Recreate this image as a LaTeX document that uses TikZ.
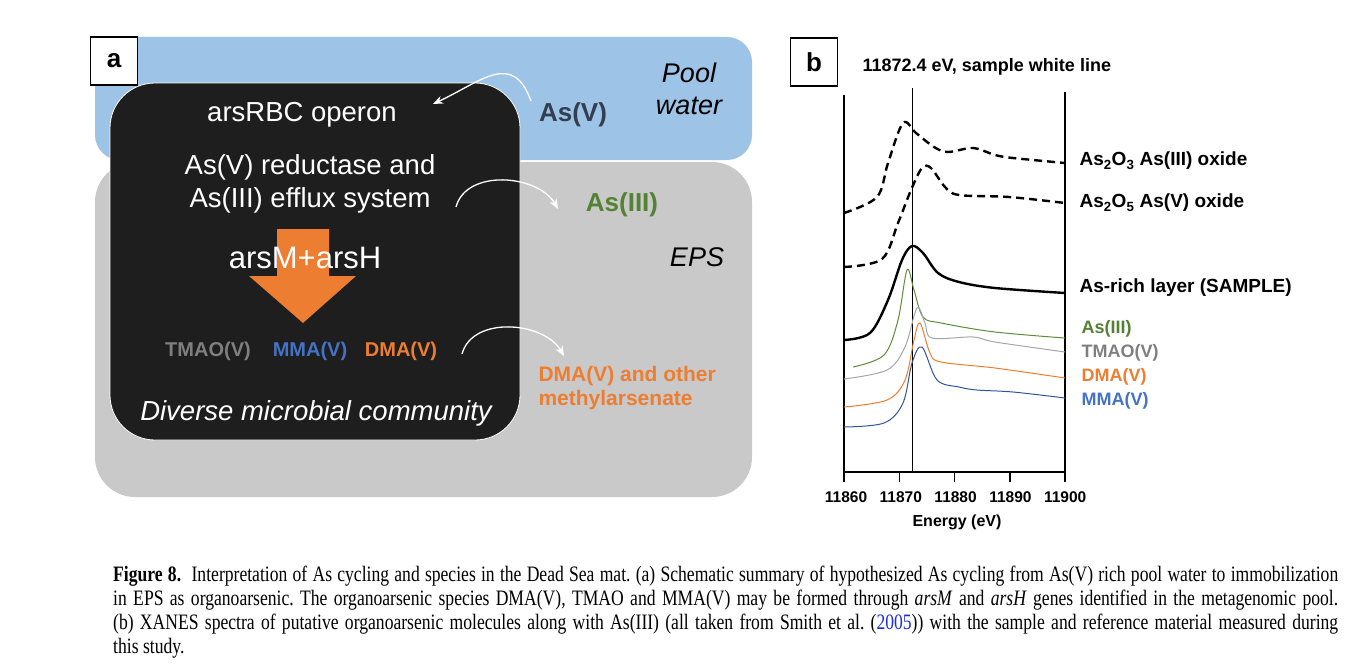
\documentclass[tikz,border=0pt]{standalone}
\usepackage{fontspec}
\setmainfont{Liberation Serif}
\setsansfont{Liberation Sans}
\newfontfamily\capfont[FakeStretch=0.8]{Liberation Serif}
\usetikzlibrary{arrows.meta}

\definecolor{poolblue}{HTML}{9DC3E6}
\definecolor{epsgray}{HTML}{C9C9C9}
\definecolor{cellblack}{HTML}{1E1E1E}
\definecolor{arsorange}{HTML}{ED7D31}
\definecolor{arsgreen}{HTML}{548235}
\definecolor{arsblue}{HTML}{4472C4}
\definecolor{arsgray}{HTML}{7F7F7F}
\definecolor{asvdark}{HTML}{333F50}
\definecolor{curvegreen}{HTML}{5E8C3A}
\definecolor{curvegray}{HTML}{A6A6A6}
\definecolor{curveblue}{HTML}{2F5597}
\definecolor{refblue}{HTML}{1A2FD6}

\begin{document}
\begin{tikzpicture}[x=1pt,y=1pt,
    panel/.style={draw=black, line width=1.2pt, fill=white, minimum width=47pt, minimum height=48pt, inner sep=0pt, font=\sffamily\bfseries\fontsize{26}{26}\selectfont},
    celltext/.style={text=white, font=\sffamily\fontsize{27.5}{33}\selectfont, align=center},
    species/.style={font=\sffamily\bfseries\fontsize{20}{20}\selectfont},
    outside/.style={font=\sffamily\bfseries\fontsize{26}{26}\selectfont},
    zone/.style={font=\sffamily\itshape\fontsize{27}{32}\selectfont, align=center},
    warrow/.style={white, line width=1.3pt, -{Stealth[length=10pt,width=8pt]}},
    spectrum/.style={font=\sffamily\bfseries\fontsize{19}{19}\selectfont, anchor=west},
    reflabel/.style={font=\sffamily\bfseries\fontsize{18}{18}\selectfont, anchor=west},
    dashcurve/.style={line width=2.4pt, dash pattern=on 8pt off 5pt},
    thincurve/.style={line width=1pt}]
  \useasboundingbox (0,0) rectangle (1351,-669);

  % ---------- panel a ----------
  \fill[epsgray, rounded corners=40pt] (95,-162) rectangle (752,-497);
  \fill[poolblue, rounded corners=25pt] (95,-37) rectangle (752,-160);
  \draw[fill=cellblack, draw=white, line width=0.8pt, rounded corners=45pt] (110,-83) rectangle (520,-440);
  \node[panel] (pa) at (114,-61) {a};

  \node[zone] (pool) at (689,-89) {Pool\\water};
  \node[zone] (eps) at (697,-257) {EPS};
  \node[outside, text=asvdark] (asv) at (573,-115) {As(V)};
  \node[outside, text=arsgreen] (asiii) at (622,-205) {As(III)};
  \node[species, text=arsorange, align=left, anchor=west, font=\sffamily\bfseries\fontsize{21}{24}\selectfont] (methyl) at (535,-388) {DMA(V) and other\\methylarsenate};

  \node[celltext] (operon) at (302,-115) {arsRBC operon};
  \node[celltext] (reduct) at (310,-184) {As(V) reductase and\\As(III) efflux system};

  % orange arrow behind arsM+arsH
  \fill[arsorange] (277,-229) -- (329,-229) -- (329,-276) -- (356,-276) -- (303,-323) -- (249,-276) -- (277,-276) -- cycle;
  \node[celltext, font=\sffamily\fontsize{31}{31}\selectfont] (genes) at (305,-258) {arsM+arsH};

  \node[species, text=arsgray] (tmao) at (208,-351) {TMAO(V)};
  \node[species, text=arsblue] (mma) at (310,-351) {MMA(V)};
  \node[species, text=arsorange] (dma) at (401,-351) {DMA(V)};
  \node[celltext, font=\sffamily\itshape\fontsize{27.5}{27.5}\selectfont] (community) at (316,-413) {Diverse microbial community};

  % white arrows
  \coordinate (a1s) at (531,-101);
  \coordinate (a1e) at (433,-104);
  \coordinate (a2s) at (456,-207);
  \coordinate (a2e) at (558,-209);
  \coordinate (a3s) at (462,-354);
  \coordinate (a3e) at (564,-356);
  \draw[warrow] (a1s) to[out=110,in=25,looseness=1.4] (a1e);
  \draw[warrow] (a2s) to[out=75,in=120] (a2e);
  \draw[warrow] (a3s) to[out=75,in=120] (a3e);

  % ---------- panel b ----------
  \node[panel] (pb) at (814,-62) {b};
  \node[font=\sffamily\bfseries\fontsize{18}{18}\selectfont, anchor=west] (title) at (859,-67) {11872.4 eV, sample white line};

  \draw[line width=2pt] (844,-95) -- (844,-482);
  \draw[line width=2pt] (1065,-92) -- (1065,-482);
  \draw[line width=2pt] (844,-472) -- (1065,-472);
  \draw[line width=0.8pt] (912.5,-88) -- (912.5,-472);
  \foreach \e [count=\i] in {11860,11870,11880,11890,11900} {
    \draw[line width=1.5pt] ({844+(\i-1)*55.25},-472) -- ({844+(\i-1)*55.25},-482);
    \node[font=\sffamily\bfseries\fontsize{15.5}{15.5}\selectfont] (tick\i) at ({846+(\i-1)*54.8},-497) {\e};
  }
  \node[font=\sffamily\bfseries\fontsize{16}{16}\selectfont] (energy) at (957,-522) {Energy (eV)};

  % spectra
  \draw[dashcurve] plot[smooth, tension=0.55] coordinates {(844,-213) (877,-197) (888,-163) (903,-123) (916,-133) (934,-147) (948,-152) (973,-148) (995,-155) (1013,-158) (1065,-163)};
  \draw[dashcurve] plot[smooth, tension=0.55] coordinates {(844,-267) (882,-259) (898,-223) (911,-190) (922,-168) (931,-168) (945,-187) (959,-195) (1009,-197) (1065,-203)};
  \draw[line width=2.4pt] plot[smooth, tension=0.55] coordinates {(844,-340) (870,-333) (888,-300) (902,-260) (912,-246) (923,-253) (938,-273) (959,-282) (995,-288) (1065,-293)};
  \draw[thincurve, curvegreen] plot[smooth, tension=0.55] coordinates {(853,-367) (884,-355) (898,-320) (907,-270) (914,-290) (923,-317) (941,-323) (995,-332) (1065,-338)};
  \draw[thincurve, curvegray] plot[smooth, tension=0.55] coordinates {(844,-379) (887,-370) (905,-347) (917,-308) (925,-323) (932,-338) (973,-337) (995,-342) (1065,-352)};
  \draw[thincurve, arsorange] plot[smooth, tension=0.55] coordinates {(844,-407) (887,-400) (905,-380) (914,-340) (920,-323) (930,-353) (941,-362) (995,-368) (1065,-378)};
  \draw[thincurve, curveblue] plot[smooth, tension=0.55] coordinates {(844,-427) (884,-423) (903,-403) (912,-363) (922,-347) (937,-380) (959,-387) (977,-390) (1013,-392) (1065,-398)};

  \node[spectrum] (l1) at (1076,-161) {As\textsubscript{2}O\textsubscript{3} As(III) oxide};
  \node[spectrum] (l2) at (1076,-203) {As\textsubscript{2}O\textsubscript{5} As(V) oxide};
  \node[spectrum] (l3) at (1076,-288) {As-rich layer (SAMPLE)};
  \node[reflabel, text=arsgreen] (l4) at (1078,-329) {As(III)};
  \node[reflabel, text=arsgray] (l5) at (1078,-353) {TMAO(V)};
  \node[reflabel, text=arsorange] (l6) at (1078,-377) {DMA(V)};
  \node[reflabel, text=arsblue] (l7) at (1078,-401) {MMA(V)};

  % ---------- caption ----------
  \node[anchor=north west, inner sep=0pt, text width=1225pt, align=justify, font=\capfont\fontsize{22}{24}\selectfont\frenchspacing] (caption) at (113,-566)
    {\textbf{Figure 8.}\ \ Interpretation of As cycling and species in the Dead Sea mat. (a) Schematic summary of hypothesized As cycling from As(V) rich pool water to immobilization\linebreak
     in EPS as organoarsenic. The organoarsenic species DMA(V), TMAO and MMA(V) may be formed through \textit{arsM} and \textit{arsH} genes identified in the metagenomic pool.\linebreak
     (b) XANES spectra of putative organoarsenic molecules along with As(III) (all taken from Smith et al. (\textcolor{refblue}{2005})) with the sample and reference material measured during\linebreak
     this study.};
\end{tikzpicture}
\end{document}
